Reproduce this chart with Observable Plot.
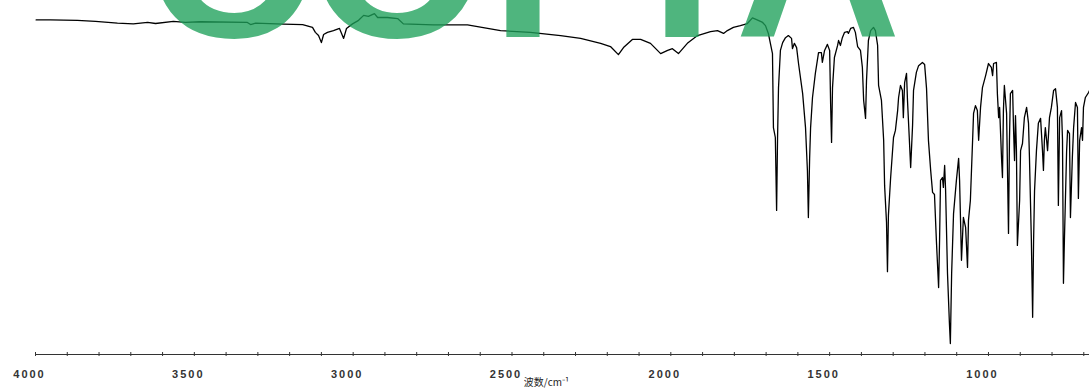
<!DOCTYPE html>
<html><head><meta charset="utf-8">
<script src="https://cdn.jsdelivr.net/npm/d3@7"></script>
<script src="https://cdn.jsdelivr.net/npm/@observablehq/plot@0.6"></script>
<style>
body{margin:0;background:#fff;}
#wrap{width:1089px;height:390px;overflow:hidden;}
</style></head><body><div id="wrap"></div>
<script>
// IR spectrum, wavenumber (cm-1) and transmittance (%)
const wavenumber = [3998,3953,3868,3811,3742,3692,3647,3622,3566,3528,3481,3333,3323,3307,3219,3159,3128,3119,3109,3100,3093,3081,3062,3043,3030,3021,3002,2983,2967,2952,2933,2923,2892,2860,2842,2747,2640,2536,2442,2347,2284,2221,2190,2165,2149,2121,2095,2064,2032,2010,1995,1976,1948,1916,1875,1853,1834,1822,1803,1781,1759,1743,1730,1711,1702,1693,
1680,1677,1671,1667,1664,1661,1655,1648,1639,1630,1620,1617,1611,1604,1598,1585,1576,1570,1567,1563,1560,1554,1545,1535,1526,1523,1516,1507,1500,1497,1494,1491,1485,1475,1472,1466,1460,1453,1444,1441,1434,1425,1419,1412,1403,1397,1393,1387,1384,1378,1371,1362,1356,1349,1346,1337,1330,1327,1321,1318,1315,1308,1299,1293,1286,1283,1277,1271,1268,1264,1258,1255,1249,1245,1239,1236,1227,1220,1208,1201,1195,1189,1182,1176,1170,1164,1157,1154,1151,1145,1142,1138,1135,1129,1123,1120,1116,1110,1101,1094,1091,1085,1079,1072,1066,1063,1057,1050,1047,1041,1035,1031,1025,1019,1009,1000,991,987,984,975,972,968,965,959,956,953,950,943,940,937,934,931,924,921,918,915,912,909,902,899,893,887,880,874,871,865,861,858,855,849,843,836,830,827,824,821,817,814,808,802,795,789,783,780,776,770,767,764,761,754,751,745,742,736,732,726,720,717,713,707,704,701,695,685,682];
const transmittance = [94.5,94.5,94.4,94.1,93.6,93.4,93.8,93.5,94.1,93.8,94.0,93.8,93.2,93.6,93.3,93.2,92.4,91.0,90.1,88.1,90.4,91.0,91.5,92.1,89.3,92.1,93.4,94.4,95.8,95.5,96.3,95.2,95.2,94.9,93.4,93.1,93.1,91.5,91.0,90.1,89.3,87.9,87.0,84.7,86.7,89.0,89.0,87.9,85.0,85.9,86.4,85.0,87.9,90.1,91.2,91.5,90.7,91.5,92.4,92.9,93.5,95.1,94.6,93.8,92.9,90.7,
85.0,64.1,61.3,40.7,61.3,75.4,85.9,88.1,89.5,90.1,89.3,86.4,87.9,86.7,82.2,73.7,64.1,52.0,38.7,55.6,64.1,72.6,79.4,85.3,85.3,82.5,85.9,87.6,85.9,70.9,59.9,75.4,83.9,87.3,88.7,87.3,89.5,91.0,91.2,90.7,92.1,92.4,91.0,87.0,85.9,81.1,71.8,66.7,77.4,88.7,91.5,92.4,91.5,87.3,76.0,71.8,60.5,47.7,37.3,23.4,39.3,50.0,61.3,63.3,68.9,72.6,76.0,74.6,66.9,76.8,79.4,71.8,60.5,52.8,64.7,74.6,79.7,81.6,82.5,81.9,75.1,60.5,52.0,45.8,45.2,32.2,18.9,32.2,49.2,50.0,47.2,53.4,46.3,22.9,8.8,3.1,22.9,39.8,49.2,55.4,49.2,26.6,38.7,35.9,24.6,37.9,43.5,60.5,68.1,70.3,68.9,60.5,69.8,75.4,78.8,82.2,81.1,78.8,82.2,82.5,73.7,66.9,69.8,55.6,50.0,68.9,76.0,68.1,51.1,34.2,60.5,73.7,74.6,63.3,54.8,67.5,57.6,30.8,43.5,57.6,59.6,66.9,69.8,65.3,55.6,32.2,10.5,32.2,46.3,57.6,65.3,66.7,57.6,52.0,60.5,64.1,60.5,57.6,66.9,69.8,74.6,75.1,69.8,42.1,66.9,68.9,60.5,20.1,32.2,57.6,63.3,62.4,38.7,55.6,64.1,71.2,69.8,44.1,60.5,64.1,60.5,69.8,72.6,74.0,74.6];
const majorTicks = [4000, 3500, 3000, 2500, 2000, 1500, 1000];
const minorTicks = [4000,3900,3800,3700,3600,3500,3400,3300,3200,3100,3000,2900,2800,2700,2600,2500,2400,2300,2200,2100,2000,1900,1800,1700,1600,1500,1400,1300,1200,1100,1000,900,800,700];
const axisTitle = "波数/cm⁻¹";
const watermark = "COPIA";

const data = wavenumber.map((w, i) => ({w, t: transmittance[i]}));

const chart = Plot.plot({
  width: 1089, height: 390,
  marginLeft: 35, marginRight: 0, marginTop: 0, marginBottom: 36,
  x: {domain: [4000, 682], axis: null, label: null},
  y: {domain: [0, 100], axis: null, label: null},
  style: {background: "#fff", fontFamily: "'Liberation Sans', Arial, sans-serif", overflow: "visible"},
  marks: [
    Plot.ruleY([0], {stroke: "#333", strokeWidth: 1}),
    Plot.axisX({ticks: minorTicks, tickSize: 4, dy: -2, tickFormat: () => "", color: "#333", label: null}),
    Plot.axisX({ticks: majorTicks, tickSize: 0, tickPadding: 16, tickFormat: d => String(d), dx: -6, fontSize: 11, fontWeight: "bold", color: "#333", label: null, ariaLabel: "major-labels"}),
    Plot.line(data, {x: "w", y: "t", stroke: "#000", strokeWidth: 1.3}),
    Plot.text([axisTitle], {frameAnchor: "bottom", dy: 31, dx: -16, fontSize: 10, fontFamily: "'Noto Sans CJK SC', sans-serif", fill: "#222"})
  ]
});
document.getElementById("wrap").appendChild(chart);

// wider tick label lettering as in the reference
d3.select(chart).selectAll("text")
  .filter(function() { return /^\d{4}$/.test(this.textContent); })
  .style("letter-spacing", "2px");

// watermark overlay (drawn on top, semi-transparent)
d3.select(chart).append("text")
  .attr("x", "145 308 491 650 735")
  .attr("y", 37)
  .attr("text-anchor", "start")
  .style("text-anchor", "start")
  .attr("font-family", "'Liberation Sans', Arial, sans-serif")
  .attr("font-weight", "bold")
  .attr("font-size", 230)
  .attr("fill", "rgb(30,160,90)")
  .attr("fill-opacity", 0.78)
  .text(watermark);
</script></body></html>
